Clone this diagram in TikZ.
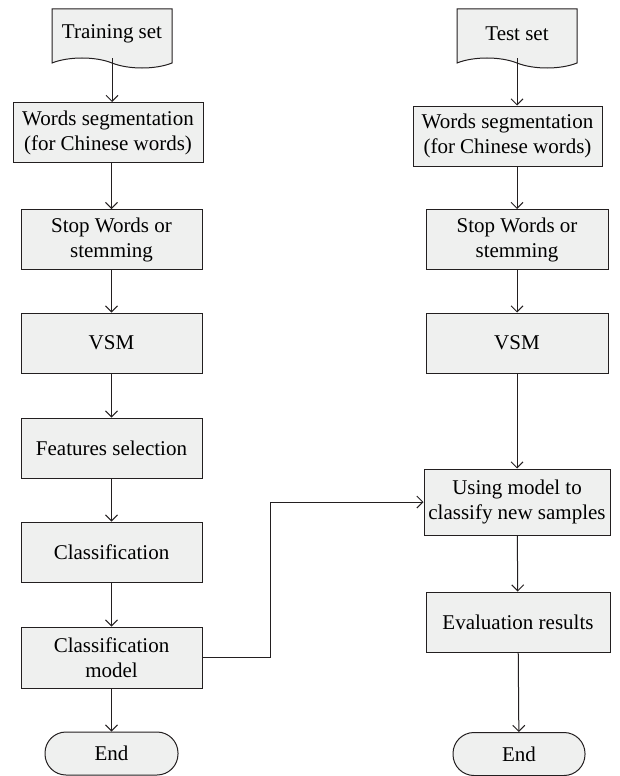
\documentclass[tikz,border=0pt]{standalone}
\usepackage{fontspec}
\setmainfont{Liberation Serif}
\usepackage{tikz}
\usetikzlibrary{arrows.meta,shapes.symbols,positioning}
\usepackage{xcolor}
\definecolor{flline}{RGB}{35,31,32}
\definecolor{flfill}{RGB}{239,240,239}
\tikzstyle{proc} = [rectangle, draw=flline, line width=1pt, fill=flfill, align=center,
  inner sep=2pt, minimum height=60pt, font=\fontsize{21}{25}\selectfont]
\tikzstyle{doc} = [tape, tape bend top=none, tape bend bottom=out and in, tape bend height=10pt,
  draw=flline, line width=1pt, fill=flfill, align=center, inner sep=2pt,
  minimum width=120pt, minimum height=59pt, font=\fontsize{21}{25}\selectfont]
\tikzstyle{term} = [rectangle, rounded corners=21pt, draw=flline, line width=1pt, fill=flfill,
  minimum height=43pt, font=\fontsize{21}{25}\selectfont]
\tikzstyle{arrow} = [line width=1pt, draw=flline, -{Straight Barb[length=6pt,width=12pt]}]

\begin{document}
\begin{tikzpicture}[x=1pt, y=-1pt]
\useasboundingbox (0,0) rectangle (619,776);

% Training branch
\node[doc] (train) at (112,33.5) {Training set};
\node[proc, minimum width=190pt] (wsa) at (108,132.5) {Words segmentation\\(for Chinese words)};
\node[proc, minimum width=181pt] (swa) at (111.5,239.5) {Stop Words or\\stemming};
\node[proc, minimum width=181pt] (vsma) at (111.5,343) {VSM};
\node[proc, minimum width=181pt] (feat) at (111.5,448) {Features selection};
\node[proc, minimum width=181pt] (clf) at (111.5,552) {Classification};
\node[proc, minimum width=181pt, minimum height=61pt] (model) at (111.5,657.5) {Classification\\model};
\node[term, minimum width=133pt] (enda) at (111.5,753.5) {End};

% Test branch
\node[doc] (test) at (517,33.5) {Test set};
\node[proc, minimum width=189pt] (wsb) at (507.5,136) {Words segmentation\\(for Chinese words)};
\node[proc, minimum width=182pt] (swb) at (517,239.5) {Stop Words or\\stemming};
\node[proc, minimum width=182pt] (vsmb) at (517,343) {VSM};
\node[proc, minimum width=186pt, minimum height=66pt] (use) at (517,502) {Using model to\\classify new samples};
\node[proc, minimum width=184pt] (eval) at (518,622) {Evaluation results};
\node[term, minimum width=132pt] (endb) at (519,754) {End};

% Arrows
\draw[arrow] (train.south) -- (train.south |- wsa.north);
\draw[arrow] (wsa.south -| swa.north) -- (swa.north);
\draw[arrow] (swa) -- (vsma);
\draw[arrow] (vsma) -- (feat);
\draw[arrow] (feat) -- (clf);
\draw[arrow] (clf) -- (model);
\draw[arrow] (model) -- (enda);

\draw[arrow] (test.south) -- (test.south |- wsb.north);
\draw[arrow] (wsb.south -| swb.north) -- (swb.north);
\draw[arrow] (swb) -- (vsmb);
\draw[arrow] (vsmb) -- (use);
\draw[arrow] (use) -- (eval);
\draw[arrow] (eval) -- (endb);

\draw[arrow] (model.east) -- ++(68,0) |- (use.west);
\end{tikzpicture}
\end{document}
